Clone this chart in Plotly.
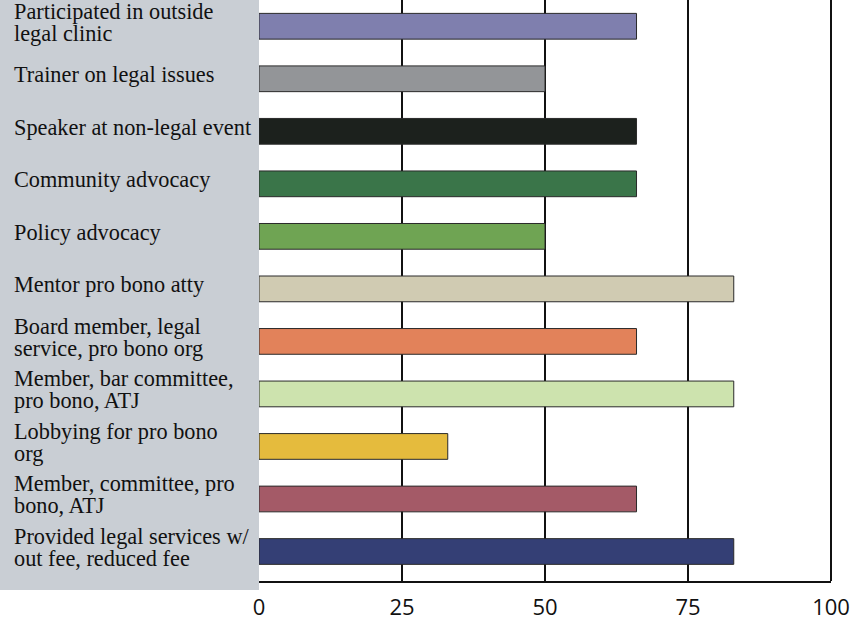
import plotly.graph_objects as go

# activities, top to bottom as drawn
activities = [
    "Participated in outside<br>legal clinic",
    "Trainer on legal issues",
    "Speaker at non-legal event",
    "Community advocacy",
    "Policy advocacy",
    "Mentor pro bono atty",
    "Board member, legal<br>service, pro bono org",
    "Member, bar committee,<br>pro bono, ATJ",
    "Lobbying for pro bono<br>org",
    "Member, committee, pro<br>bono, ATJ",
    "Provided legal services w/<br>out fee, reduced fee",
]
percent = [66, 50, 66, 66, 50, 83, 66, 83, 33, 66, 83]
bar_colors = [
    "#7f7fae", "#939598", "#1c211d", "#3a7549", "#6fa453", "#d0cbb2",
    "#e2825a", "#cde3ae", "#e5bb3d", "#a45a67", "#343f75",
]
x_ticks = [0, 25, 50, 75, 100]

fig = go.Figure(
    go.Bar(
        x=percent,
        y=activities,
        orientation="h",
        width=0.49,
        marker=dict(color=bar_colors, line=dict(color="#2a2a2a", width=1)),
        hoverinfo="x+y",
    )
)

# grey label panel on the left
fig.add_shape(
    type="rect", xref="paper", yref="paper",
    x0=-259 / 572, x1=0, y0=-9 / 584, y1=1.01,
    fillcolor="#c9ced4", line_width=0, layer="below",
)
# right frame line (the gridline at the range end is not drawn)
fig.add_shape(
    type="line", xref="paper", yref="paper",
    x0=1, x1=1, y0=0, y1=1,
    line=dict(color="#111", width=2),
)

# left-aligned labels, one annotation per line to keep the leading tight
for cat in activities:
    lines = cat.split("<br>")
    n = len(lines)
    for k, line in enumerate(lines):
        fig.add_annotation(
            x=0, xref="paper", y=cat, yref="y",
            text=line, showarrow=False,
            xanchor="left", yanchor="middle",
            xshift=-247, yshift=4 - (k - (n - 1) / 2) * 22,
            font=dict(family="Liberation Serif, Times New Roman, serif", size=22.3, color="#111"),
        )

fig.update_xaxes(
    range=[0, 100],
    tickvals=x_ticks,
    showgrid=True, gridcolor="#111", gridwidth=2,
    zeroline=False,
    showline=True, linecolor="#111", linewidth=2,
    ticks="",
    ticklabelstandoff=6,
    tickfont=dict(family="Open Sans, Roboto, sans-serif", size=22, color="#111"),
    fixedrange=True,
)
fig.update_yaxes(
    autorange="reversed",
    showticklabels=False,
    showgrid=False, zeroline=False, showline=False,
    fixedrange=True,
)
fig.update_layout(
    width=867, height=621,
    margin=dict(l=259, r=36, t=0, b=37),
    plot_bgcolor="white", paper_bgcolor="white",
    showlegend=False,
    bargap=0.51,
)

# drop the browser's default 8px body margin so the figure sits at the corner
fig.write_html(
    "out.html",
    config={"displayModeBar": False},
    post_script="document.body.style.margin='0px';",
)
